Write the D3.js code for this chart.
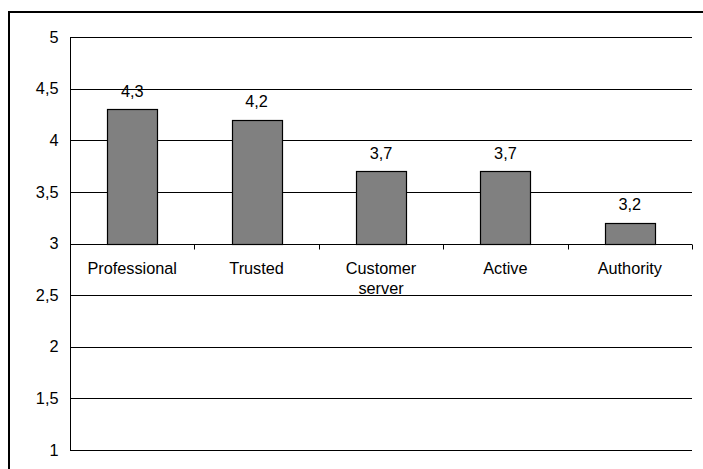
<!DOCTYPE html>
<html><head><meta charset="utf-8">
<script src="https://cdn.jsdelivr.net/npm/d3@7"></script>
<style>
html,body{margin:0;padding:0;background:#fff;}
svg{display:block;}
text{font-family:"Liberation Sans",Arial,sans-serif;fill:#000;}
</style></head>
<body>
<svg id="c" width="703" height="469"></svg>
<script>
const categories = [["Professional"], ["Trusted"], ["Customer", "server"], ["Active"], ["Authority"]];
const values = [4.3, 4.2, 3.7, 3.7, 3.2];
const valueLabels = ["4,3", "4,2", "3,7", "3,7", "3,2"];
const yTicks = [1, 1.5, 2, 2.5, 3, 3.5, 4, 4.5, 5];
const yTickLabels = ["1", "1,5", "2", "2,5", "3", "3,5", "4", "4,5", "5"];
const baseValue = 3;

const svg = d3.select("#c");
const L = 70, R = 692, T = 37, B = 450;
const fs = 16.3;

// outer frame
svg.append("rect").attr("x", 9).attr("y", 12).attr("width", 800).attr("height", 800)
  .attr("fill", "none").attr("stroke", "#000").attr("stroke-width", 2);

const y = d3.scaleLinear().domain([1, 5]).range([B, T]);
const x = d3.scaleBand().domain(d3.range(categories.length)).range([L, R]).paddingInner(0).paddingOuter(0);
const barW = 50;

// gridlines
svg.append("g").selectAll("line").data(yTicks).join("line")
  .attr("x1", L).attr("x2", R)
  .attr("y1", d => Math.round(y(d)) + 0.5).attr("y2", d => Math.round(y(d)) + 0.5)
  .attr("stroke", "#000").attr("stroke-width", 1);

// left axis line
svg.append("line").attr("x1", L + 0.5).attr("x2", L + 0.5).attr("y1", y(5)).attr("y2", Math.round(y(1)) + 1)
  .attr("stroke", "#000");

// y tick labels
svg.append("g").selectAll("text").data(yTicks).join("text")
  .attr("x", 58.5).attr("y", d => y(d)).attr("dy", "0.35em")
  .attr("text-anchor", "end").attr("font-size", fs)
  .text((d, i) => yTickLabels[i]);

// bars
svg.append("g").selectAll("rect").data(values).join("rect")
  .attr("x", (d, i) => Math.round(x(i) + x.bandwidth() / 2 - barW / 2) + 0.5)
  .attr("y", d => Math.round(y(d)) + 0.5)
  .attr("width", barW)
  .attr("height", d => Math.round(y(baseValue)) - Math.round(y(d)))
  .attr("fill", "#808080").attr("stroke", "#000").attr("stroke-width", 1.2);

// category axis ticks at y=3
const yb = Math.round(y(baseValue)) + 0.5;
svg.append("g").selectAll("line").data(d3.range(categories.length + 1)).join("line")
  .attr("x1", i => Math.round(L + i * x.bandwidth()) + 0.5)
  .attr("x2", i => Math.round(L + i * x.bandwidth()) + 0.5)
  .attr("y1", yb).attr("y2", yb + 5).attr("stroke", "#000");

// value labels
svg.append("g").selectAll("text").data(values).join("text")
  .attr("x", (d, i) => x(i) + x.bandwidth() / 2)
  .attr("y", d => y(d) - 12.5)
  .attr("text-anchor", "middle").attr("font-size", fs)
  .text((d, i) => valueLabels[i]);

// category labels
const cg = svg.append("g").selectAll("text").data(categories).join("text")
  .attr("x", (d, i) => x(i) + x.bandwidth() / 2)
  .attr("y", yb + 29)
  .attr("text-anchor", "middle").attr("font-size", fs);
cg.each(function(d) {
  const t = d3.select(this);
  d.forEach((line, k) => {
    t.append("tspan").attr("x", t.attr("x")).attr("dy", k === 0 ? 0 : 20.5).text(line);
  });
});
</script>
</body></html>
